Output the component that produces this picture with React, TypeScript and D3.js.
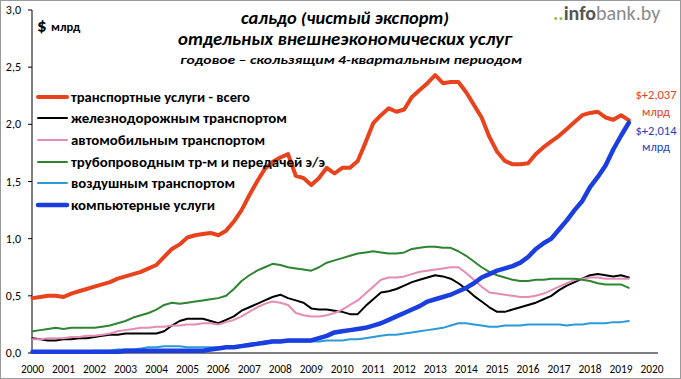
import React from "react";
import * as d3 from "d3";

// quarterly data, 2000 Q1 .. 2019 Q2 (rolling 4-quarter sums, $ bn)
const yearLabels = ["2000","2001","2002","2003","2004","2005","2006","2007","2008","2009","2010","2011","2012","2013","2014","2015","2016","2017","2018","2019","2020"];
const yTicks = [0, 0.5, 1.0, 1.5, 2.0, 2.5, 3.0];

const transportTotal = [0.48,0.49,0.50,0.50,0.49,0.52,0.54,0.56,0.58,0.60,0.62,0.65,0.67,0.69,0.71,0.74,0.77,0.84,0.91,0.95,1.01,1.03,1.04,1.05,1.03,1.07,1.15,1.25,1.38,1.50,1.61,1.67,1.71,1.74,1.55,1.53,1.47,1.53,1.62,1.57,1.62,1.62,1.68,1.84,2.01,2.08,2.14,2.11,2.13,2.24,2.30,2.36,2.43,2.36,2.37,2.37,2.28,2.17,2.06,1.89,1.76,1.68,1.65,1.65,1.66,1.74,1.80,1.85,1.90,1.96,2.02,2.08,2.10,2.11,2.06,2.04,2.08,2.037];
const railway = [0.13,0.12,0.11,0.11,0.12,0.12,0.13,0.13,0.14,0.15,0.16,0.16,0.17,0.17,0.17,0.17,0.17,0.19,0.24,0.28,0.30,0.30,0.30,0.28,0.26,0.29,0.32,0.37,0.40,0.43,0.46,0.49,0.51,0.48,0.46,0.44,0.39,0.38,0.38,0.37,0.36,0.34,0.34,0.41,0.47,0.53,0.54,0.56,0.59,0.62,0.64,0.66,0.68,0.67,0.65,0.61,0.56,0.50,0.45,0.40,0.36,0.36,0.38,0.40,0.42,0.44,0.47,0.50,0.55,0.59,0.62,0.65,0.68,0.69,0.68,0.67,0.68,0.66];
const road = [0.12,0.12,0.13,0.13,0.13,0.14,0.14,0.15,0.15,0.16,0.17,0.19,0.20,0.21,0.22,0.22,0.23,0.23,0.24,0.24,0.25,0.25,0.26,0.26,0.25,0.27,0.29,0.32,0.36,0.40,0.43,0.45,0.44,0.42,0.35,0.33,0.32,0.32,0.33,0.35,0.38,0.42,0.46,0.52,0.58,0.64,0.66,0.66,0.67,0.69,0.71,0.72,0.73,0.74,0.75,0.75,0.70,0.64,0.58,0.53,0.52,0.51,0.50,0.49,0.49,0.50,0.52,0.55,0.58,0.61,0.64,0.65,0.66,0.66,0.65,0.65,0.65,0.65];
const pipeline = [0.19,0.20,0.21,0.22,0.21,0.22,0.22,0.22,0.22,0.23,0.24,0.26,0.28,0.31,0.33,0.35,0.38,0.42,0.44,0.43,0.44,0.45,0.46,0.47,0.48,0.50,0.56,0.63,0.68,0.72,0.75,0.78,0.77,0.75,0.74,0.73,0.72,0.75,0.79,0.81,0.83,0.85,0.87,0.88,0.89,0.88,0.87,0.87,0.88,0.91,0.92,0.93,0.93,0.92,0.92,0.89,0.85,0.80,0.75,0.71,0.68,0.66,0.64,0.63,0.63,0.64,0.64,0.65,0.65,0.65,0.65,0.64,0.63,0.61,0.60,0.60,0.60,0.57];
const air = [0.01,0.01,0.01,0.01,0.01,0.01,0.01,0.01,0.02,0.02,0.02,0.03,0.03,0.03,0.04,0.05,0.05,0.06,0.06,0.06,0.05,0.05,0.05,0.05,0.05,0.05,0.06,0.07,0.08,0.09,0.10,0.11,0.11,0.10,0.10,0.10,0.10,0.10,0.11,0.11,0.11,0.12,0.12,0.13,0.14,0.15,0.16,0.16,0.17,0.18,0.19,0.20,0.21,0.22,0.24,0.26,0.26,0.25,0.24,0.23,0.23,0.24,0.24,0.24,0.25,0.25,0.25,0.25,0.25,0.24,0.25,0.25,0.26,0.26,0.26,0.27,0.27,0.28];
const computer = [0.01,0.01,0.01,0.01,0.01,0.01,0.01,0.01,0.01,0.01,0.01,0.01,0.02,0.02,0.02,0.02,0.02,0.02,0.02,0.02,0.02,0.02,0.02,0.03,0.04,0.05,0.05,0.06,0.07,0.08,0.09,0.10,0.10,0.11,0.11,0.11,0.11,0.13,0.15,0.18,0.19,0.20,0.21,0.22,0.24,0.26,0.29,0.32,0.35,0.38,0.41,0.45,0.47,0.49,0.51,0.54,0.57,0.61,0.66,0.69,0.72,0.74,0.76,0.79,0.84,0.91,0.96,1.00,1.08,1.16,1.25,1.33,1.45,1.54,1.64,1.78,1.90,2.014];

const seriesNames = [
  "транспортные услуги - всего",
  "железнодорожным транспортом",
  "автомобильным транспортом",
  "трубопроводным тр-м и передачей э/э",
  "воздушным транспортом",
  "компьютерные услуги",
];
const seriesColors = ["#e8431c", "#000000", "#e58cb5", "#2e8531", "#2b9ad8", "#1a3ee0"];
const seriesWidths = [4, 2, 2, 2, 2, 4.5];
const seriesData = [transportTotal, railway, road, pipeline, air, computer];
const legendTextWidths = [179, 216, 194, 254, 164, 144];

const titleLines = ["сальдо (чистый экспорт)", "отдельных внешнеэкономических услуг", "годовое – скользящим 4-квартальным периодом"];
const endLabels = ["$+2,037", "$+2,014"];

const W = 681, H = 379;
const FONT = "Carlito, Calibri, Lato, 'Open Sans', sans-serif";

export default function App() {
  const x = d3.scaleLinear().domain([0, 80]).range([32.5, 652]);
  const y = d3.scaleLinear().domain([0, 3]).range([353, 10]);
  const line = d3.line<number>().x((_, i) => x(i)).y((d) => y(d));
  const legendY = [97, 118, 140, 162, 183, 205];

  return (
    <svg width={W} height={H} style={{ position: "absolute", left: 0, top: 0, background: "#fff" }} fontFamily={FONT}>
      <rect x={0.5} y={0.5} width={W - 1} height={H - 1} fill="#fff" stroke="#9a9a9a" />
      {/* axes */}
      <line x1={32} x2={32} y1={10} y2={353} stroke="#000" strokeWidth={1} />
      <line x1={32} x2={658} y1={353} y2={353} stroke="#000" strokeWidth={1} />
      {yTicks.map((t) => (
        <g key={t}>
          <line x1={28} x2={32} y1={y(t)} y2={y(t)} stroke="#000" />
          <text x={21} y={y(t) + 4} textAnchor="end" fontSize={12} fill="#000">
            {d3.format(".1f")(t).replace(".", ",")}
          </text>
        </g>
      ))}
      {yearLabels.map((lab, k) => (
        <text key={lab} x={x(k * 4)} y={373} textAnchor="middle" fontSize={12} fill="#000" textLength={23} lengthAdjust="spacingAndGlyphs">
          {lab}
        </text>
      ))}
      {/* series */}
      {seriesData.map((d, s) => (
        <path key={s} d={line(d) || ""} fill="none" stroke={seriesColors[s]} strokeWidth={seriesWidths[s]} strokeLinejoin="round" strokeLinecap="round" />
      ))}
      {/* legend */}
      {seriesNames.map((n, s) => (
        <g key={n}>
          <line x1={38} x2={67} y1={legendY[s]} y2={legendY[s]} stroke={seriesColors[s]} strokeWidth={seriesWidths[s]} strokeLinecap="round" />
          <text x={71} y={legendY[s] + 4.5} fontSize={13} fontWeight={700} fill="#000" textLength={legendTextWidths[s]} lengthAdjust="spacingAndGlyphs">
            {n}
          </text>
        </g>
      ))}
      {/* titles */}
      <text x={345} y={24} textAnchor="middle" fontSize={17} fontWeight={700} fontStyle="italic" textLength={208} lengthAdjust="spacingAndGlyphs">{titleLines[0]}</text>
      <text x={345} y={45} textAnchor="middle" fontSize={17} fontWeight={700} fontStyle="italic" textLength={334} lengthAdjust="spacingAndGlyphs">{titleLines[1]}</text>
      <text x={351} y={64} textAnchor="middle" fontSize={12.5} fontWeight={700} fontStyle="italic" textLength={342} lengthAdjust="spacingAndGlyphs">{titleLines[2]}</text>
      {/* units */}
      <text x={37} y={32} fontSize={19} fontWeight={700}>$</text>
      <text x={51} y={31} fontSize={12.5} fontWeight={700}>млрд</text>
      {/* logo */}
      <text x={553} y={20} fontSize={20}>
        <tspan fill="#8bc34a" fontWeight={700}>..</tspan>
        <tspan fill="#555" fontWeight={700}>info</tspan>
        <tspan fill="#8a8a8a">bank.by</tspan>
      </text>
      {/* end labels */}
      <text x={656} y={99} textAnchor="middle" fontSize={12.5} fill="#e0401c">{endLabels[0]}</text>
      <text x={656} y={116} textAnchor="middle" fontSize={12.5} fill="#e0401c">млрд</text>
      <text x={656} y={135} textAnchor="middle" fontSize={12.5} fill="#1f3fc0">{endLabels[1]}</text>
      <text x={656} y={151} textAnchor="middle" fontSize={12.5} fill="#1f3fc0">млрд</text>
    </svg>
  );
}
